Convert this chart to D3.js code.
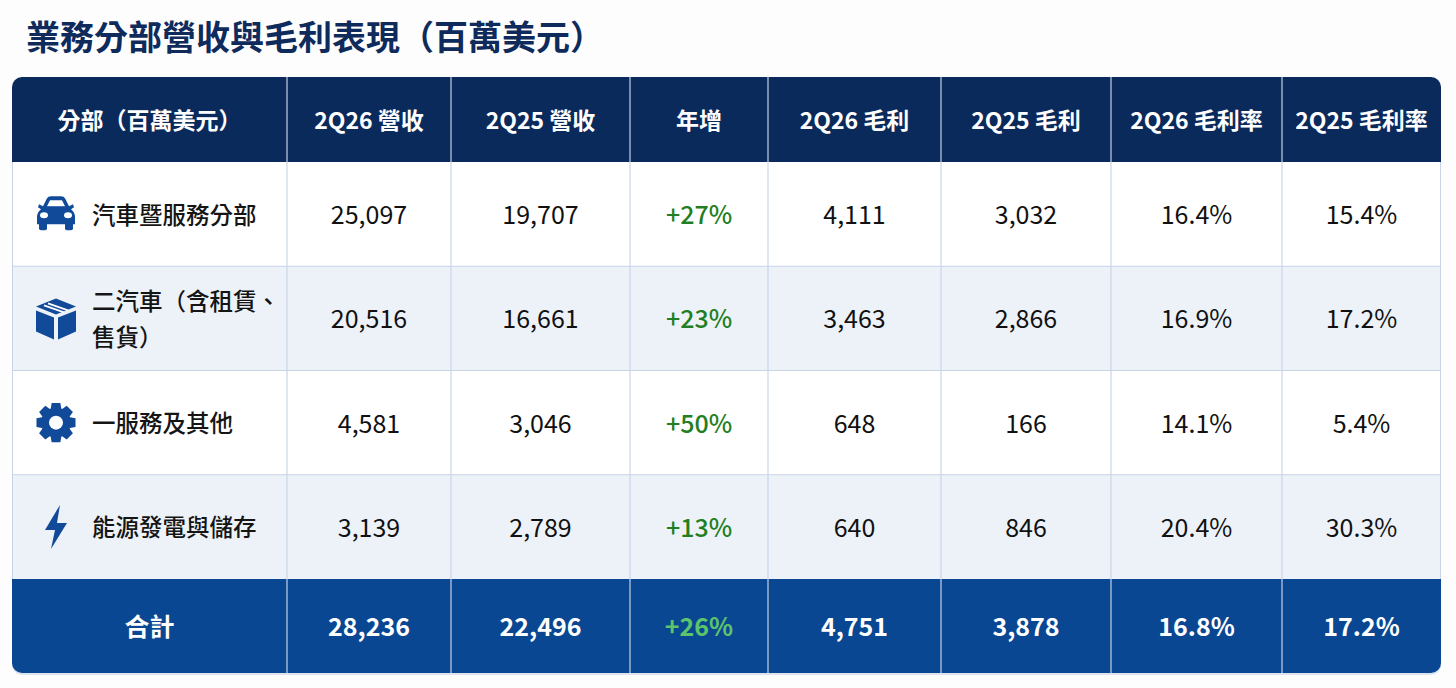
<!DOCTYPE html>
<html>
<head>
<meta charset="utf-8">
<script src="https://cdn.jsdelivr.net/npm/d3@7"></script>
<style>
  body { margin: 0; background: #fdfdfe; }
  svg text { font-family: "Noto Sans CJK TC", "Noto Sans", sans-serif; }
</style>
</head>
<body>
<div id="chart"></div>
<script>
// Table data (millions USD)
const title = "業務分部營收與毛利表現（百萬美元）";
const headers = ["分部（百萬美元）", "2Q26 營收", "2Q25 營收", "年增", "2Q26 毛利", "2Q25 毛利", "2Q26 毛利率", "2Q25 毛利率"];
const segments = [["汽車暨服務分部"], ["二汽車（含租賃、", "售貨）"], ["一服務及其他"], ["能源發電與儲存"]];
const icons = ["car", "box", "gear", "bolt"];
const rev26 = [25097, 20516, 4581, 3139];
const rev25 = [19707, 16661, 3046, 2789];
const yoy = [27, 23, 50, 13];
const gp26 = [4111, 3463, 648, 640];
const gp25 = [3032, 2866, 166, 846];
const gm26 = [16.4, 16.9, 14.1, 20.4];
const gm25 = [15.4, 17.2, 5.4, 30.3];
const totalLabel = "合計";
const totalRow = [28236, 22496, 26, 4751, 3878, 16.8, 17.2];

const width = 1456, height = 688;
const fmtNum = d3.format(",");
const fmtPct = d => d3.format(".1f")(d) + "%";
const fmtYoy = d => "+" + d + "%";

// Column layout
const colEdges = [12, 287, 451, 630, 768, 941, 1111, 1282, 1441];
const xLeft = d3.scaleOrdinal().domain(d3.range(8)).range(colEdges.slice(0, 8));
const xMid = d3.scaleOrdinal().domain(d3.range(8)).range(d3.range(8).map(i => (colEdges[i] + colEdges[i + 1]) / 2));

const headerTop = 77, headerBottom = 162, bodyBottom = 579, tableBottom = 673;
const y = d3.scaleBand().domain(d3.range(segments.length)).range([headerBottom, bodyBottom]);

const svg = d3.select("#chart").append("svg")
    .attr("width", width)
    .attr("height", height);

// Title
svg.append("text")
    .attr("x", 26)
    .attr("y", 50)
    .attr("font-size", 34)
    .attr("font-weight", 700)
    .attr("fill", "#0e2b5c")
    .text(title);

const left = colEdges[0], right = colEdges[8], r = 10;

// clip for rounded table
svg.append("defs").append("clipPath").attr("id", "tbl")
    .append("rect")
    .attr("x", left).attr("y", headerTop)
    .attr("width", right - left).attr("height", tableBottom - headerTop)
    .attr("rx", r);

svg.append("rect")
    .attr("x", left).attr("y", headerTop + 2)
    .attr("width", right - left).attr("height", tableBottom - headerTop)
    .attr("rx", r)
    .attr("fill", "#dde4ef");

const g = svg.append("g").attr("clip-path", "url(#tbl)");

// Header row
g.append("rect")
    .attr("x", left).attr("y", headerTop)
    .attr("width", right - left).attr("height", headerBottom - headerTop)
    .attr("fill", "#0b2a5c");

// Body rows
const rows = g.selectAll("g.row")
    .data(segments)
    .enter().append("g")
    .attr("class", "row");

rows.append("rect")
    .attr("x", left)
    .attr("y", (d, i) => y(i))
    .attr("width", right - left)
    .attr("height", y.bandwidth())
    .attr("fill", (d, i) => i % 2 ? "#edf2f9" : "#ffffff");

// Total row
g.append("rect")
    .attr("x", left).attr("y", bodyBottom)
    .attr("width", right - left).attr("height", tableBottom - bodyBottom)
    .attr("fill", "#0a4793");

// Grid lines
const grid = g.append("g");
d3.range(1, 8).forEach(i => {
    grid.append("line")
        .attr("x1", xLeft(i)).attr("x2", xLeft(i))
        .attr("y1", headerTop).attr("y2", headerBottom)
        .attr("stroke", "#c7d0df").attr("stroke-width", 1.2);
    grid.append("line")
        .attr("x1", xLeft(i)).attr("x2", xLeft(i))
        .attr("y1", headerBottom).attr("y2", bodyBottom)
        .attr("stroke", "#c9d5e7").attr("stroke-width", 1.2);
    grid.append("line")
        .attr("x1", xLeft(i)).attr("x2", xLeft(i))
        .attr("y1", bodyBottom).attr("y2", tableBottom)
        .attr("stroke", "#c5d2e6").attr("stroke-width", 1.2);
});
d3.range(1, segments.length).forEach(i => {
    grid.append("line")
        .attr("x1", left).attr("x2", right)
        .attr("y1", y(i)).attr("y2", y(i))
        .attr("stroke", "#c9d5e7").attr("stroke-width", 1.2);
});
grid.append("line")
    .attr("x1", left).attr("x2", left)
    .attr("y1", headerBottom).attr("y2", bodyBottom)
    .attr("stroke", "#c9d5e7").attr("stroke-width", 2);
grid.append("line")
    .attr("x1", right).attr("x2", right)
    .attr("y1", headerBottom).attr("y2", bodyBottom)
    .attr("stroke", "#c9d5e7").attr("stroke-width", 2);

// Header texts
svg.append("g").selectAll("text")
    .data(headers)
    .enter().append("text")
    .attr("x", (d, i) => xMid(i))
    .attr("y", (headerTop + headerBottom) / 2 + 1)
    .attr("dy", "0.36em")
    .attr("text-anchor", "middle")
    .attr("font-size", 23)
    .attr("font-weight", 700)
    .attr("fill", "#ffffff")
    .text(d => d);

// Body cell texts
const cols = [rev26.map(fmtNum), rev25.map(fmtNum), yoy.map(fmtYoy), gp26.map(fmtNum), gp25.map(fmtNum), gm26.map(fmtPct), gm25.map(fmtPct)];
cols.forEach((vals, c) => {
    svg.append("g").selectAll("text")
        .data(vals)
        .enter().append("text")
        .attr("x", xMid(c + 1))
        .attr("y", (d, i) => y(i) + y.bandwidth() / 2 + 1)
        .attr("dy", "0.36em")
        .attr("text-anchor", "middle")
        .attr("font-size", 25)
        .attr("font-weight", c === 2 ? 500 : 400)
        .attr("fill", c === 2 ? "#1f7f22" : "#111111")
        .text(d => d);
});

// Segment labels
const lab = svg.append("g").selectAll("text")
    .data(segments)
    .enter().append("text")
    .attr("font-size", 23.5)
    .attr("font-weight", 500)
    .attr("fill", "#151515");
lab.each(function (lines, i) {
    const cy = y(i) + y.bandwidth() / 2 + 1;
    const lh = 36;
    lines.forEach((line, k) => {
        d3.select(this).append("tspan")
            .attr("x", 92)
            .attr("y", cy + (k - (lines.length - 1) / 2) * lh)
            .attr("dy", "0.36em")
            .text(line);
    });
});

// Icons
const iconColor = "#124a9a";
function drawIcon(sel, type) {
    if (type === "car") {
        sel.append("path")
            .attr("d", "M-13,-8 L-9,-16 Q-8,-18 -5,-18 L5,-18 Q8,-18 9,-16 L13,-8 L17,-10 L18,-7 L15,-5 Q19,-2 19,3 L19,10 L-19,10 L-19,3 Q-19,-2 -15,-5 L-18,-7 L-17,-10 Z M-9,-8 L9,-8 L6,-14 L-6,-14 Z")
            .attr("fill-rule", "evenodd")
            .attr("fill", iconColor);
        sel.append("rect").attr("x", -17).attr("y", 8).attr("width", 8).attr("height", 8).attr("rx", 2).attr("fill", iconColor);
        sel.append("rect").attr("x", 9).attr("y", 8).attr("width", 8).attr("height", 8).attr("rx", 2).attr("fill", iconColor);
        sel.append("ellipse").attr("cx", -12).attr("cy", 1).attr("rx", 4).attr("ry", 3).attr("fill", "#ffffff");
        sel.append("ellipse").attr("cx", 12).attr("cy", 1).attr("rx", 4).attr("ry", 3).attr("fill", "#ffffff");
    } else if (type === "box") {
        sel.append("path").attr("d", "M0,-20 L20,-12 L0,-4 L-20,-12 Z").attr("fill", iconColor);
        sel.append("path").attr("d", "M-20,-8 L-2,-1 L-2,21 L-20,13 Z").attr("fill", iconColor);
        sel.append("path").attr("d", "M20,-8 L2,-1 L2,21 L20,13 Z").attr("fill", iconColor);
        sel.append("path").attr("d", "M-8,-15 L12,-8").attr("stroke", "#ffffff").attr("stroke-width", 1.6);
        sel.append("path").attr("d", "M-12,-13 L8,-6").attr("stroke", "#ffffff").attr("stroke-width", 1.6);
    } else if (type === "gear") {
        const teeth = 8, ro = 20, ri = 15;
        const pts = [];
        d3.range(teeth).forEach(k => {
            const a = k * 2 * Math.PI / teeth;
            const w = 0.22, w2 = 0.36;
            pts.push([ri * Math.cos(a - w2), ri * Math.sin(a - w2)]);
            pts.push([ro * Math.cos(a - w), ro * Math.sin(a - w)]);
            pts.push([ro * Math.cos(a + w), ro * Math.sin(a + w)]);
            pts.push([ri * Math.cos(a + w2), ri * Math.sin(a + w2)]);
        });
        sel.append("path").attr("d", d3.line().curve(d3.curveLinearClosed)(pts)).attr("fill", iconColor);
        sel.append("circle").attr("r", 7).attr("fill", "#ffffff");
    } else if (type === "bolt") {
        sel.append("path")
            .attr("d", "M4,-22 L-11,3 L-1,3 L-5,22 L11,-4 L1,-4 Z")
            .attr("fill", iconColor);
    }
}
icons.forEach((t, i) => {
    const ig = svg.append("g").attr("transform", `translate(56,${y(i) + y.bandwidth() / 2})`);
    drawIcon(ig, t);
});

// Total row texts
const totalTexts = [totalLabel, fmtNum(totalRow[0]), fmtNum(totalRow[1]), fmtYoy(totalRow[2]), fmtNum(totalRow[3]), fmtNum(totalRow[4]), fmtPct(totalRow[5]), fmtPct(totalRow[6])];
svg.append("g").selectAll("text")
    .data(totalTexts)
    .enter().append("text")
    .attr("x", (d, i) => xMid(i))
    .attr("y", (bodyBottom + tableBottom) / 2 + 1)
    .attr("dy", "0.36em")
    .attr("text-anchor", "middle")
    .attr("font-size", 25)
    .attr("font-weight", 700)
    .attr("fill", (d, i) => i === 3 ? "#5cc46a" : "#ffffff")
    .text(d => d);
</script>
</body>
</html>
